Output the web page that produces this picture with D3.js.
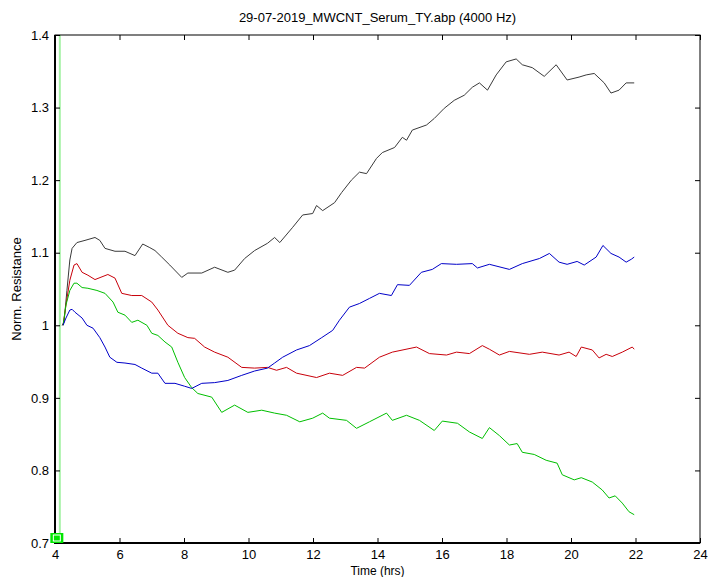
<!DOCTYPE html>
<html>
<head>
<meta charset="utf-8">
<script src="https://cdn.jsdelivr.net/npm/d3@7"></script>
<style>
  body { margin: 0; background: #fff; }
  text { font-family: "Liberation Sans", Arial, sans-serif; fill: #000; }
</style>
</head>
<body>
<div id="chart"></div>
<script>
/* SET UP */

const w = 708;
const h = 577;
const m = { top: 35, right: 8, bottom: 34, left: 55 };

const title = "29-07-2019_MWCNT_Serum_TY.abp (4000 Hz)";
const xTicks = [4, 6, 8, 10, 12, 14, 16, 18, 20, 22, 24];
const yTicks = [0.7, 0.8, 0.9, 1, 1.1, 1.2, 1.3, 1.4];
const markerTimes = [4.15];

// series values (time in hrs, norm. resistance)
const blackT = [4.22, 4.28, 4.37, 4.46, 4.53, 4.68, 4.93, 5.24, 5.39, 5.55, 5.86, 6.17, 6.48, 6.72, 6.94, 7.10, 7.31, 7.56, 7.93, 8.12, 8.55, 8.95, 9.36, 9.57, 9.88, 10.19, 10.59, 10.81, 10.97, 11.37, 11.68, 11.99, 12.11, 12.30, 12.67, 12.89, 13.19, 13.44, 13.66, 13.97, 14.15, 14.53, 14.77, 14.90, 15.08, 15.52, 15.76, 16.07, 16.38, 16.69, 16.94, 17.16, 17.41, 17.68, 17.99, 18.30, 18.49, 18.80, 19.17, 19.54, 19.88, 20.25, 20.47, 20.72, 21.03, 21.24, 21.49, 21.71, 21.96];
const blackV = [1.000, 1.004, 1.048, 1.090, 1.106, 1.114, 1.117, 1.121, 1.117, 1.106, 1.102, 1.102, 1.096, 1.112, 1.107, 1.103, 1.094, 1.083, 1.066, 1.072, 1.072, 1.080, 1.073, 1.076, 1.092, 1.103, 1.113, 1.121, 1.114, 1.135, 1.152, 1.154, 1.165, 1.158, 1.169, 1.183, 1.200, 1.211, 1.209, 1.230, 1.238, 1.245, 1.259, 1.255, 1.269, 1.276, 1.285, 1.299, 1.310, 1.317, 1.328, 1.334, 1.324, 1.345, 1.363, 1.367, 1.359, 1.355, 1.343, 1.359, 1.338, 1.342, 1.345, 1.347, 1.334, 1.320, 1.324, 1.334, 1.334];

const redT = [4.25, 4.34, 4.46, 4.59, 4.68, 4.84, 5.02, 5.24, 5.64, 5.86, 6.07, 6.38, 6.69, 7.00, 7.19, 7.50, 7.81, 8.12, 8.33, 8.64, 8.95, 9.36, 9.79, 10.19, 10.59, 10.87, 11.18, 11.49, 12.11, 12.51, 12.92, 13.35, 13.60, 14.06, 14.46, 15.21, 15.61, 16.14, 16.45, 16.85, 17.25, 17.47, 17.78, 18.09, 18.71, 19.11, 19.63, 19.94, 20.16, 20.32, 20.66, 20.87, 21.09, 21.28, 21.59, 21.90, 21.96];
const redV = [1.000, 1.028, 1.062, 1.083, 1.085, 1.073, 1.069, 1.063, 1.070, 1.065, 1.044, 1.041, 1.041, 1.032, 1.021, 1.000, 0.989, 0.983, 0.982, 0.970, 0.963, 0.956, 0.942, 0.941, 0.942, 0.938, 0.942, 0.934, 0.928, 0.934, 0.931, 0.942, 0.941, 0.956, 0.963, 0.970, 0.961, 0.959, 0.963, 0.961, 0.972, 0.967, 0.959, 0.964, 0.960, 0.963, 0.959, 0.963, 0.957, 0.970, 0.966, 0.955, 0.960, 0.957, 0.963, 0.970, 0.967];

const greenT = [4.25, 4.34, 4.46, 4.59, 4.68, 4.84, 5.02, 5.30, 5.55, 5.80, 5.95, 6.17, 6.38, 6.57, 6.85, 7.00, 7.19, 7.41, 7.62, 7.81, 8.02, 8.24, 8.43, 8.86, 9.17, 9.57, 9.98, 10.41, 10.81, 11.18, 11.59, 11.99, 12.30, 12.51, 13.04, 13.35, 13.75, 14.28, 14.46, 14.90, 15.30, 15.76, 16.01, 16.48, 16.85, 17.25, 17.47, 17.78, 18.09, 18.33, 18.49, 18.86, 19.23, 19.57, 19.73, 20.10, 20.32, 20.66, 20.97, 21.18, 21.37, 21.59, 21.80, 21.96];
const greenV = [1.000, 1.028, 1.048, 1.058, 1.058, 1.052, 1.051, 1.048, 1.044, 1.032, 1.018, 1.014, 1.004, 1.007, 1.000, 0.989, 0.986, 0.977, 0.970, 0.949, 0.928, 0.914, 0.906, 0.901, 0.880, 0.890, 0.880, 0.883, 0.879, 0.876, 0.867, 0.872, 0.879, 0.872, 0.869, 0.858, 0.867, 0.879, 0.869, 0.876, 0.869, 0.855, 0.868, 0.865, 0.853, 0.844, 0.859, 0.848, 0.835, 0.837, 0.825, 0.822, 0.814, 0.810, 0.794, 0.787, 0.790, 0.784, 0.773, 0.762, 0.765, 0.755, 0.743, 0.739];

const blueT = [4.25, 4.34, 4.46, 4.53, 4.62, 4.84, 4.99, 5.18, 5.39, 5.55, 5.70, 5.92, 6.17, 6.48, 6.69, 7.00, 7.19, 7.41, 7.72, 8.02, 8.24, 8.55, 8.95, 9.36, 9.79, 10.19, 10.59, 10.81, 11.06, 11.49, 11.89, 12.27, 12.61, 12.82, 13.13, 13.44, 13.75, 14.06, 14.43, 14.62, 14.99, 15.36, 15.70, 15.98, 16.45, 16.94, 17.10, 17.47, 18.09, 18.49, 19.02, 19.33, 19.63, 19.88, 20.19, 20.41, 20.78, 20.99, 21.24, 21.49, 21.71, 21.87, 21.96];
const blueV = [1.000, 1.010, 1.021, 1.022, 1.018, 1.010, 1.000, 0.996, 0.983, 0.970, 0.956, 0.949, 0.948, 0.946, 0.941, 0.934, 0.934, 0.920, 0.920, 0.916, 0.913, 0.920, 0.921, 0.924, 0.931, 0.937, 0.941, 0.948, 0.956, 0.966, 0.972, 0.983, 0.993, 1.007, 1.025, 1.030, 1.037, 1.044, 1.041, 1.056, 1.055, 1.073, 1.077, 1.085, 1.084, 1.085, 1.079, 1.084, 1.077, 1.085, 1.092, 1.099, 1.087, 1.084, 1.088, 1.083, 1.094, 1.110, 1.099, 1.094, 1.087, 1.091, 1.094];

const series = [
	{ name: "black", t: blackT, v: blackV, color: "#3a3a3a" },
	{ name: "red", t: redT, v: redV, color: "#c8000a" },
	{ name: "green", t: greenT, v: greenV, color: "#00bf00" },
	{ name: "blue", t: blueT, v: blueV, color: "#0000c8" },
];

/* MAKING THE CHART */

const svg = d3
	.select("#chart")
	.append("svg")
	.attr("width", w)
	.attr("height", h);

const xScale = d3.scaleLinear().domain([4, 24]).range([m.left, w - m.right]);
const yScale = d3.scaleLinear().domain([0.7, 1.4]).range([h - m.bottom, m.top]);

const x0 = xScale.range()[0], x1 = xScale.range()[1];
const y0 = yScale.range()[0], y1 = yScale.range()[1];

// title
svg.append("text")
	.attr("x", (x0 + x1) / 2)
	.attr("y", 22)
	.attr("text-anchor", "middle")
	.attr("font-size", 13)
	.text(title);

// marker line (light green)
svg.selectAll(".marker")
	.data(markerTimes)
	.join("line")
	.attr("class", "marker")
	.attr("x1", (d) => xScale(d))
	.attr("x2", (d) => xScale(d))
	.attr("y1", y1)
	.attr("y2", y0)
	.attr("stroke", "#a8f2a8")
	.attr("stroke-width", 2);

// axes with inward ticks
const fmt = (d) => (d === 1 ? "1" : d3.format(".1f")(d));

svg.append("g")
	.attr("transform", `translate(0,${y0})`)
	.call(d3.axisBottom(xScale).tickValues(xTicks).tickSize(-5).tickPadding(7).tickFormat(d3.format("d")))
	.call((g) => g.select(".domain").remove())
	.call((g) => g.selectAll("text").attr("font-size", 13).attr("font-family", "Liberation Sans, Arial, sans-serif"));

svg.append("g")
	.attr("transform", `translate(0,${y1})`)
	.call(d3.axisTop(xScale).tickValues(xTicks).tickSize(-5).tickFormat(""))
	.call((g) => g.select(".domain").remove());

svg.append("g")
	.attr("transform", `translate(${x0},0)`)
	.call(d3.axisLeft(yScale).tickValues(yTicks).tickSize(-5).tickPadding(6).tickFormat(fmt))
	.call((g) => g.select(".domain").remove())
	.call((g) => g.selectAll("text").attr("font-size", 13).attr("font-family", "Liberation Sans, Arial, sans-serif"));

svg.append("g")
	.attr("transform", `translate(${x1},0)`)
	.call(d3.axisRight(yScale).tickValues(yTicks).tickSize(-5).tickFormat(""))
	.call((g) => g.select(".domain").remove());

// frame
svg.append("rect")
	.attr("x", x0)
	.attr("y", y1)
	.attr("width", x1 - x0)
	.attr("height", y0 - y1)
	.attr("fill", "none")
	.attr("stroke", "#000")
	.attr("stroke-width", 1);
svg.append("path")
	.attr("d", `M${x0},${y1}V${y0}H${x1}`)
	.attr("fill", "none")
	.attr("stroke", "#000")
	.attr("stroke-width", 2);

// lines
const line = d3.line()
	.x((d) => xScale(d[0]))
	.y((d) => yScale(d[1]));

svg.selectAll(".series")
	.data(series)
	.join("path")
	.attr("class", "series")
	.attr("d", (s) => line(s.t.map((t, i) => [t, s.v[i]])))
	.attr("fill", "none")
	.attr("stroke", (s) => s.color)
	.attr("stroke-width", 1);

// small marker tag at the bottom of the marker line
const tag = svg.selectAll(".tag")
	.data(markerTimes)
	.join("g")
	.attr("class", "tag")
	.attr("transform", (d) => `translate(${xScale(d) - 9.5},${y0 - 10})`);
tag.append("rect")
	.attr("width", 13)
	.attr("height", 10)
	.attr("fill", "#00e600");
tag.append("rect")
	.attr("x", 3)
	.attr("y", 2)
	.attr("width", 7)
	.attr("height", 6)
	.attr("fill", "none")
	.attr("stroke", "#fff")
	.attr("stroke-width", 1);

// axis labels
svg.append("text")
	.attr("x", (x0 + x1) / 2)
	.attr("y", 575)
	.attr("text-anchor", "middle")
	.attr("font-size", 12)
	.text("Time (hrs)");

svg.append("text")
	.attr("transform", `translate(21,${(y0 + y1) / 2}) rotate(-90)`)
	.attr("text-anchor", "middle")
	.attr("font-size", 13)
	.text("Norm. Resistance");
</script>
</body>
</html>
